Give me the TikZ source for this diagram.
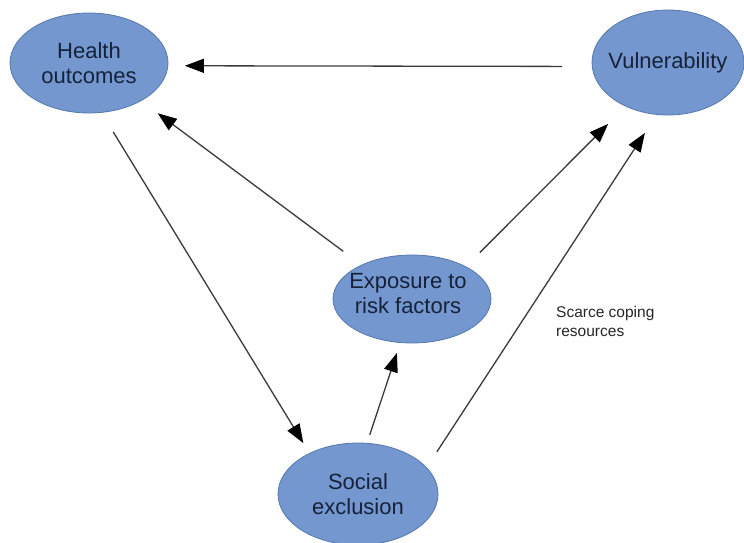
\documentclass[tikz,border=0pt]{standalone}
\usepackage{fontspec}
\setmainfont{Liberation Sans}
\usepackage{xcolor}
\usepackage{tikz}
\usetikzlibrary{shapes.geometric,arrows.meta,positioning}
\definecolor{bubblefill}{HTML}{7397CE}
\definecolor{bubbleedge}{HTML}{5579AD}
\definecolor{bubbleink}{HTML}{16223A}
\definecolor{linkgray}{HTML}{3A3A3A}
\tikzset{
  bubble/.style={ellipse, draw=bubbleedge, fill=bubblefill, line width=0.8pt, inner sep=0pt, outer sep=0pt},
  bubbletext/.style={font=\fontsize{22}{25}\selectfont, text=bubbleink, align=center},
  note/.style={font=\fontsize{15.5}{19}\selectfont, text=black!85, align=left, inner sep=0pt},
  link/.style={draw=linkgray, line width=1.3pt, -{Triangle[length=19pt,width=14pt,color=black]}}
}

\begin{document}
\begin{tikzpicture}[x=1pt,y=-1pt]
    \useasboundingbox (0,0) rectangle (744,543);
    \node[bubble, minimum width=158pt, minimum height=100pt, label={[bubbletext]center:Health\\outcomes}] (h) at (89,63) {};
    \node[bubble, minimum width=152pt, minimum height=105pt, label={[bubbletext]center:Vulnerability}] (v) at (668,62.5) {};
    \node[bubble, minimum width=158pt, minimum height=88pt, label={[bubbletext, xshift=-4pt, yshift=5pt]center:Exposure to\\risk factors}] (e) at (412,299) {};
    \node[bubble, minimum width=160pt, minimum height=102pt, label={[bubbletext]center:Social\\exclusion}] (s) at (358,494) {};
    \node[note, anchor=west] (scarce) at (556,321) {Scarce coping\\resources};
    \draw[link, shorten <=30pt, shorten >=17pt] (v.183) -- (h.-2);
    \draw[link, shorten <=23pt, shorten >=21pt] (e.146) -- (h.-36);
    \draw[link, shorten <=23pt, shorten >=12pt] (h.-76) -- (s.140);
    \draw[link, shorten <=9pt, shorten >=11pt] (s.80) -- (e.-105);
    \draw[link, shorten <=20pt, shorten >=25pt] (e.31) -- (v.-134);
    \draw[link, shorten <=19pt, shorten >=22pt] (s.21) -- (v.-102);
\end{tikzpicture}
\end{document}
